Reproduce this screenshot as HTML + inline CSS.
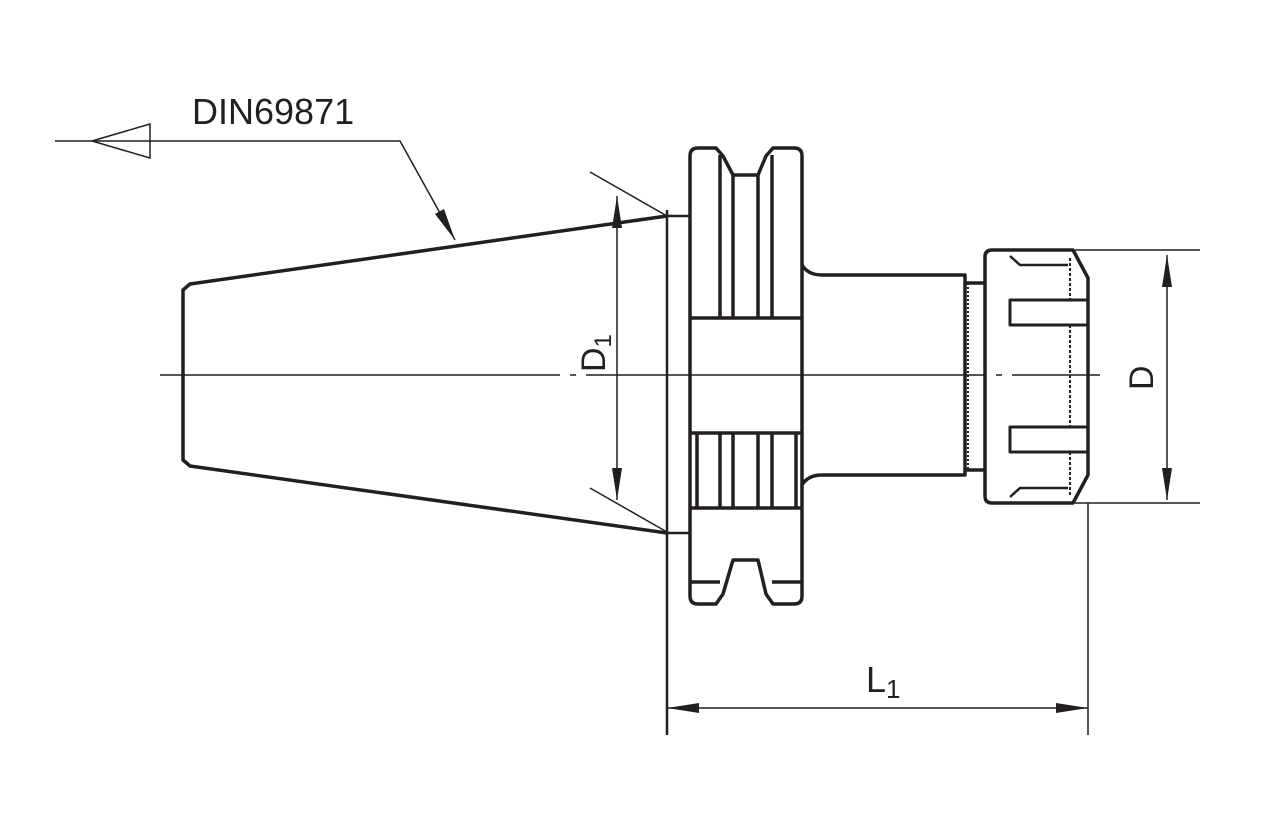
<!DOCTYPE html><html><head><style>body{margin:0;background:#fff}</style></head><body>
<svg width="1261" height="809" viewBox="0 0 1261 809" xmlns="http://www.w3.org/2000/svg" font-family="Liberation Sans, sans-serif">
<g fill="none" stroke="#231f20" stroke-width="3.5" stroke-linejoin="round">
<!-- taper -->
<path d="M667,216 L190,284 L183,290 L183,460 L190,466 L667,533"/>
<path d="M667,216 H690 M667,533 H690" stroke-width="2.5"/>
<line x1="667" y1="210" x2="667" y2="735" stroke-width="2.5"/>
<!-- flange -->
<path d="M698,148 H716 L723,156 L733,175 H758 L766,156 L773,148 H794 Q802,148 802,156 V596 Q802,604 794,604 H773 L766,594 L758,560 H733 L723,594 L716,604 H698 Q690,604 690,596 V156 Q690,148 698,148 Z"/>
<path d="M720,155 V318 M733,175 V318 M758,175 V318 M772,155 V318"/>
<path d="M690,318 H802 M690,433 H802 M690,508 H802"/>
<path d="M697,433 V508 M720,433 V508 M733,433 V508 M758,433 V508 M772,433 V508 M796,433 V508"/>
<path d="M690,582 H720 M772,582 H802"/>
<!-- shank -->
<path d="M802,265 Q808,275 822,275 H965 V475 H822 Q808,475 802,485"/>
<path d="M965,283 H985 M965,470 H985"/>
<path d="M968,283 V470" stroke-width="2" stroke-dasharray="2,2"/>
<!-- nut -->
<path d="M992,250 H1073 L1088,278 V475 L1073,503 H992 Q985,503 985,496 V257 Q985,250 992,250 Z"/>
<path d="M1010,300 H1088 V325 H1010 Z M1010,427 H1088 V452 H1010 Z" stroke-width="3"/>
<path d="M1070,258 V300 M1070,325 V427 M1070,452 V495" stroke-width="2" stroke-dasharray="3,2"/>
<path d="M1010,256 L1020,265 H1068 M1010,497 L1020,488 H1068" stroke-width="2.5"/>
</g>
<!-- centerline -->
<line x1="160" y1="375" x2="1100" y2="375" stroke="#231f20" stroke-width="1.5" stroke-dasharray="400,10,6,10"/>
<g stroke="#231f20" stroke-width="1.5" fill="none">
<!-- D1 -->
<line x1="590" y1="172" x2="667" y2="216"/>
<line x1="590" y1="488" x2="667" y2="532"/>
<line x1="617" y1="196" x2="617" y2="500"/>
<!-- D -->
<line x1="1075" y1="250" x2="1200" y2="250"/>
<line x1="1075" y1="503" x2="1200" y2="503"/>
<line x1="1167" y1="255" x2="1167" y2="500"/>
<!-- L1 -->
<line x1="1088" y1="503" x2="1088" y2="735"/>
<line x1="667" y1="708" x2="1088" y2="708"/>
<!-- leader -->
<polyline points="55,141 400,141 455,240"/>
<polygon points="92,141 150,124 150,158"/>
</g>
<g fill="#231f20">
<polygon points="617,196 612,228 622,228"/>
<polygon points="617,500 612,468 622,468"/>
<polygon points="1167,255 1162,287 1172,287"/>
<polygon points="1167,500 1162,468 1172,468"/>
<polygon points="667,708 699,703 699,713"/>
<polygon points="1088,708 1056,703 1056,713"/>
<polygon points="455,240 435,214 444,209"/>
</g>
<g fill="#231f20">
<text x="192" y="124" font-size="36">DIN69871</text>
<text transform="translate(605,372) rotate(-90)" font-size="34">D<tspan font-size="24" dy="6">1</tspan></text>
<text transform="translate(1153,390) rotate(-90)" font-size="34">D</text>
<text x="866" y="692" font-size="36">L<tspan font-size="26" dy="6">1</tspan></text>
</g>
</svg>
</body></html>
